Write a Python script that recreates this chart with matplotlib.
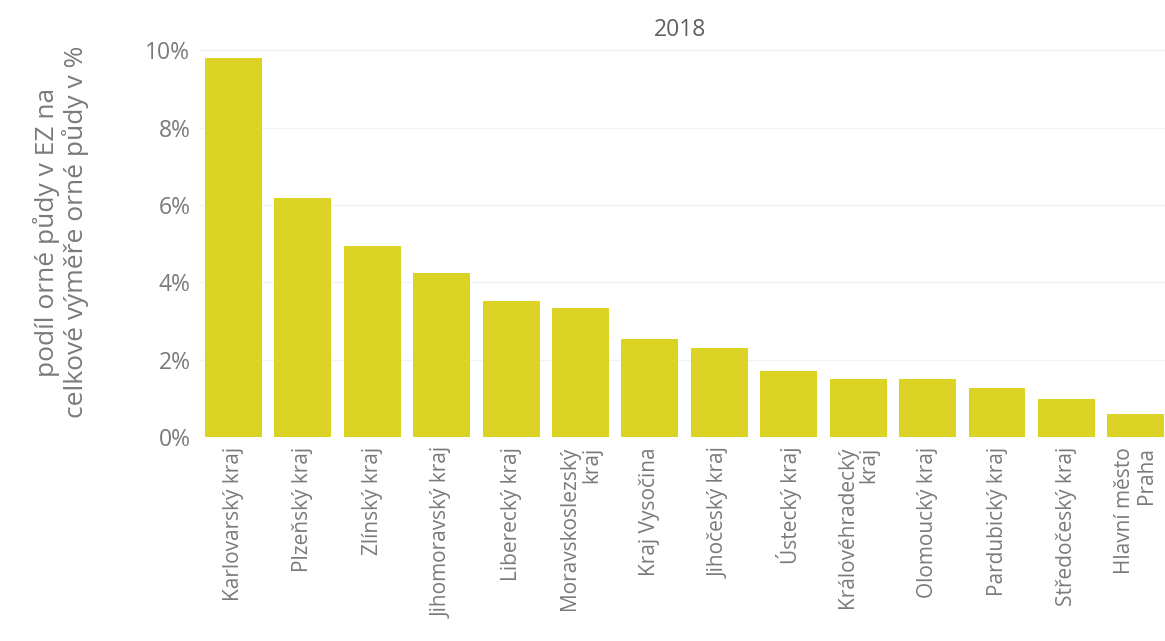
import matplotlib
matplotlib.use("Agg")
import matplotlib.pyplot as plt
from matplotlib.ticker import FuncFormatter

# data (share of organic arable land, %)
regions = [
    "Karlovarský kraj", "Plzeňský kraj", "Zlínský kraj", "Jihomoravský kraj",
    "Liberecký kraj", "Moravskoslezský\nkraj", "Kraj Vysočina", "Jihočeský kraj",
    "Ústecký kraj", "Královéhradecký\nkraj", "Olomoucký kraj", "Pardubický kraj",
    "Středočeský kraj", "Hlavní město\nPraha",
]
shares = [9.8, 6.18, 4.94, 4.24, 3.51, 3.33, 2.53, 2.30, 1.71, 1.50, 1.50, 1.27, 0.98, 0.59]
y_ticks = [0, 2, 4, 6, 8, 10]

plt.rcParams["font.family"] = ["Open Sans", "DejaVu Sans"]
text_grey = "#7a7a7a"

fig = plt.figure(figsize=(11.65, 6.41), dpi=100)
ax = fig.add_axes([0.1706, 0.318, 0.8294, 0.634])

ax.bar(range(len(regions)), shares, width=0.82, color="#dcd425", zorder=2)

ax.set_xlim(-0.5, 13.42)
ax.set_ylim(0, 10.5)
ax.set_yticks(y_ticks)
ax.yaxis.set_major_formatter(FuncFormatter(lambda v, _: f"{v:.0f}%"))
ax.grid(axis="y", color="#f2f2f2", linewidth=1, zorder=0)

ax.set_xticks(range(len(regions)))
ax.set_xticklabels(regions, rotation=90, ma="right", fontsize=15, color=text_grey,
                   linespacing=1.05)
ax.tick_params(axis="y", labelsize=16.5, labelcolor=text_grey, length=0, pad=6)
ax.tick_params(axis="x", length=0, pad=7)
for s in ax.spines.values():
    s.set_visible(False)

fig.text(0.5837, 1 - 30 / 641, "2018", ha="center", va="center", fontsize=16.5,
         color="#606060")
fig.text(0.052, 1 - 232 / 641, "podíl orné půdy v EZ na\ncelkové výměře orné půdy v %",
         rotation=90, ha="center", va="center", fontsize=19, color=text_grey,
         linespacing=1.1)

fig.savefig("out.png", dpi=100)
